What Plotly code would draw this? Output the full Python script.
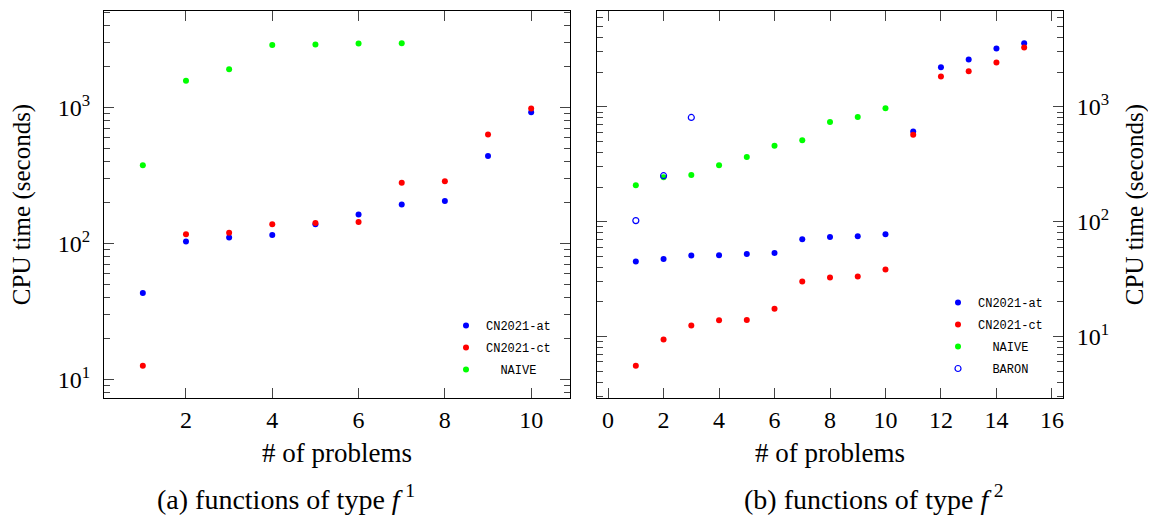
import plotly.graph_objects as go

# ---------------- data ----------------
# (a) functions of type f^1
f1_x = [1, 2, 3, 4, 5, 6, 7, 8, 9, 10]
f1_at = [43.3, 103.7, 111, 115.5, 139, 163.7, 194, 206, 441, 924]
f1_ct = [12.67, 117.4, 120, 139, 141.5, 143.9, 280, 287.7, 633, 983]
f1_naive_x = [1, 2, 3, 4, 5, 6, 7]
f1_naive = [377, 1570, 1912, 2884, 2902, 2952, 2969]

# (b) functions of type f^2
f2_x = [1, 2, 3, 4, 5, 6, 7, 8, 9, 10, 11, 12, 13, 14, 15]
f2_at = [44.9, 47.3, 50.6, 50.9, 52.3, 53.4, 70.2, 73.6, 74.6, 77.6, 610, 2213, 2580, 3215, 3578]
f2_ct = [5.56, 9.42, 12.46, 13.87, 13.9, 17.4, 30.1, 32.6, 33.2, 38.3, 571, 1836, 2043, 2430, 3281]
f2_naive_x = [1, 2, 3, 4, 5, 6, 7, 8, 9, 10]
f2_naive = [207, 243, 254.5, 309, 365, 458, 510, 736, 813, 973]
f2_baron_x = [1, 2, 3]
f2_baron = [102, 251, 807]

names = ["CN2021-at", "CN2021-ct", "\u00a0\u00a0NAIVE", "\u00a0\u00a0BARON"]
x1_ticks = [2, 4, 6, 8, 10]
x2_ticks = [0, 2, 4, 6, 8, 10, 12, 14, 16]
y_ticks = [10, 100, 1000]
y_ticktext = ["10<sup>1</sup>", "10<sup>2</sup>", "10<sup>3</sup>"]
xtitle = "# of problems"
ytitle = "CPU time (seconds)"
captions = ["(a) functions of type <i>f</i>\u2009<sup>1</sup>", "(b) functions of type <i>f</i>\u2009<sup>2</sup>"]

BLUE, RED, GREEN = "rgb(0,0,255)", "rgb(255,0,0)", "rgb(0,255,0)"
SERIF = "Liberation Serif"
MONO = "Liberation Mono"
MS = 6

fig = go.Figure()

def pts(x, y, name, color, xa, ya, leg, group, symbol="circle"):
    if symbol == "circle":
        marker = dict(size=MS, color=color, symbol="circle", line=dict(width=0))
    else:
        marker = dict(size=MS, color=color, symbol="circle-open", line=dict(width=1.2, color=color))
    fig.add_trace(go.Scatter(x=x, y=y, name=name, mode="markers", marker=marker,
                             xaxis=xa, yaxis=ya, legend=leg, legendgroup=group))

pts(f1_x, f1_at, names[0], BLUE, "x", "y", "legend", "a1")
pts(f1_x, f1_ct, names[1], RED, "x", "y", "legend", "a2")
pts(f1_naive_x, f1_naive, names[2], GREEN, "x", "y", "legend", "a3")

pts(f2_x, f2_at, names[0], BLUE, "x2", "y2", "legend2", "b1")
pts(f2_x, f2_ct, names[1], RED, "x2", "y2", "legend2", "b2")
pts(f2_naive_x, f2_naive, names[2], GREEN, "x2", "y2", "legend2", "b3")
pts(f2_baron_x, f2_baron, names[3], BLUE, "x2", "y2", "legend2", "b4", symbol="open")

# page body has an 8px default margin -> figure is 8px smaller and shifted
W, H = 1148, 509
L, R, T, B = 96, 93, 3, 119
PW, PH = W - L - R, H - T - B

def px(xpix):  # reference-picture x -> paper fraction
    return (xpix - 8 - L) / PW

def py(ypix):  # reference-picture y -> paper fraction
    return (H - B - (ypix - 8)) / PH

TICKC = "#444"
common_x = dict(showline=True, linecolor="black", linewidth=1, mirror="ticks",
                ticks="inside", ticklen=10, tickcolor=TICKC, tickwidth=1,
                showgrid=False, zeroline=False,
                tickfont=dict(family=SERIF, size=24, color="black"),
                title=dict(text=xtitle, font=dict(family=SERIF, size=27, color="black"), standoff=11))

def common_y(standoff):
    return dict(type="log", showline=True, linecolor="black", linewidth=1, mirror="ticks",
                ticks="inside", ticklen=10, tickcolor=TICKC, tickwidth=1,
                tickmode="array", tickvals=y_ticks, ticktext=y_ticktext, ticklabelstandoff=8,
                minor=dict(ticks="inside", ticklen=6, tickcolor=TICKC, tickwidth=1,
                           dtick="D1", showgrid=False),
                showgrid=False, zeroline=False,
                tickfont=dict(family=SERIF, size=24, color="black"),
                title=dict(text=ytitle, font=dict(family=SERIF, size=25, color="black"), standoff=standoff))

fig.update_layout(
    width=W, height=H,
    margin=dict(l=L, r=R, t=T, b=B, pad=0),
    paper_bgcolor="white", plot_bgcolor="white",
    xaxis=dict(common_x, domain=[0, px(570)], range=[0.1, 10.9], tickmode="array", tickvals=x1_ticks, anchor="y"),
    yaxis=dict(common_y(24), domain=[0, 1], range=[0.866, 3.709], anchor="x", side="left"),
    xaxis2=dict(common_x, domain=[px(597), 1], range=[-0.4, 16.4], tickmode="array", tickvals=x2_ticks, anchor="y2"),
    yaxis2=dict(common_y(17), domain=[0, 1], range=[0.464, 3.834], anchor="x2", side="right"),
    legend=dict(x=px(446), y=py(311), xanchor="left", yanchor="top",
                bgcolor="rgba(0,0,0,0)", borderwidth=0, tracegroupgap=3,
                font=dict(family=MONO, size=12, color="black")),
    legend2=dict(x=px(938), y=py(288), xanchor="left", yanchor="top",
                 bgcolor="rgba(0,0,0,0)", borderwidth=0, tracegroupgap=3,
                 font=dict(family=MONO, size=12, color="black")),
    showlegend=True,
)

for txt, cx in zip(captions, [286, 874]):
    fig.add_annotation(text=txt, xref="paper", yref="paper", x=px(cx), y=py(498),
                       xanchor="center", yanchor="middle", showarrow=False,
                       font=dict(family=SERIF, size=28, color="black"))

fig.write_html("out.html")
